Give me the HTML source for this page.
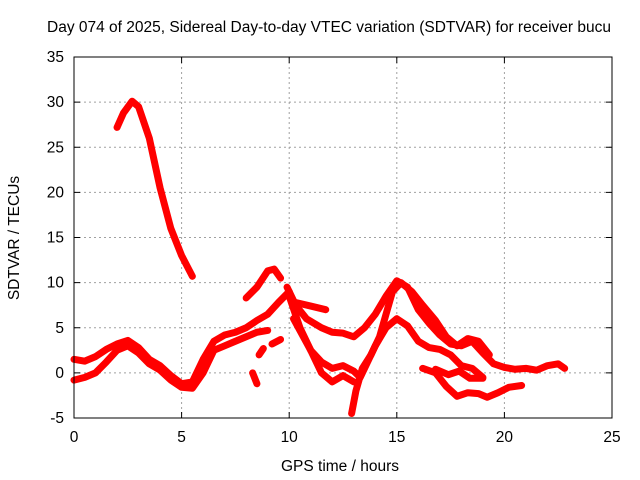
<!DOCTYPE html>
<html><head><meta charset="utf-8"><style>
body{margin:0;background:#fff}
svg{display:block;font-family:"Liberation Sans",sans-serif}
</style></head><body>
<svg id="chart" width="640" height="480">
<text x="47" y="32" font-size="15.5" text-anchor="start">Day 074 of 2025, Sidereal Day-to-day VTEC variation (SDTVAR) for receiver bucu</text>
<text x="340" y="471" font-size="15.5" text-anchor="middle">GPS time / hours</text>
<text transform="translate(19,238) rotate(-90)" font-size="15.5" text-anchor="middle">SDTVAR / TECUs</text>
<g id="grid"></g><g id="marks"></g><g id="axes"></g>
</svg>
<script>
const xTicks=[0,5,10,15,20,25];
const yTicks=[-5,0,5,10,15,20,25,30,35];
const trackA=[[2.0,27.2],[2.3,28.8],[2.7,30.1],[3.0,29.5],[3.5,26],[4.0,20.5],[4.5,16],[5.0,13],[5.5,10.7]];
const trackB=[[0,1.5],[0.5,1.3],[1,1.8],[1.5,2.6],[2,3.2],[2.5,3.6],[3,2.8],[3.5,1.5],[4,0.8],[4.5,-0.3],[5,-1.2],[5.5,-1.0],[6,1.5],[6.5,3.5],[7,4.2],[7.5,4.5],[8,5],[8.5,5.8],[9,6.5],[9.5,7.8],[10,9]];
const trackC=[[0,-0.8],[0.5,-0.5],[1,0],[1.5,1.2],[2,2.5],[2.5,3.0],[3,2.2],[3.5,1.0],[4,0.3],[4.5,-0.8],[5,-1.6],[5.5,-1.7],[6,0],[6.5,2.5],[7,3],[7.5,3.5],[8,4],[8.5,4.5],[9,4.7]];
const trackPeak=[[8.0,8.3],[8.5,9.5],[9,11.3],[9.3,11.5],[9.6,10.5]];
const trackD=[[9.9,9.5],[10.3,7.5],[10.8,6],[11.5,5],[12,4.5],[12.5,4.4],[13,4],[13.5,5],[14,6.5],[14.5,8.5],[15,10.2],[15.5,9.5],[16,7],[16.5,5.5],[17,4.2],[17.5,3.2],[18,3.0],[18.5,3.5],[19,2.2],[19.5,1.0],[20,0.6],[20.5,0.4],[21,0.5],[21.5,0.3],[22,0.8],[22.5,1.0],[22.8,0.5]];
const trackE=[[10,8.5],[10.5,5],[11,2.5],[11.5,1.2],[12,0.5],[12.5,0.8],[13,0.2],[13.3,-0.5],[13.6,1],[14,3],[14.5,5],[15,6],[15.5,5.2],[16,3.5],[16.5,2.8],[17,2.6],[17.5,2],[18,0.8],[18.5,0.5],[19,-0.5]];
const trackF=[[10.2,6],[11,2.5],[11.5,0],[12,-1],[12.5,-0.3],[13,-1]];
const trackG=[[12.9,-4.5],[13.1,-2],[13.4,0.5],[13.8,2],[14.2,4],[14.5,6.5],[14.8,9],[15.2,10],[15.7,9],[16.2,7.5],[16.8,5.8],[17.3,4],[17.8,3.0],[18.3,3.8],[18.8,3.5],[19.3,2.0]];
const trackH=[[16.2,0.5],[16.8,0],[17.3,-1.5],[17.8,-2.6],[18.3,-2.2],[18.8,-2.3],[19.2,-2.7],[19.7,-2.2],[20.2,-1.6],[20.8,-1.4]];
const trackI=[[16.8,0.4],[17.4,-0.2],[17.9,0.2],[18.4,-0.6],[19,-0.6]];
const trackJ=[[10.3,7.8],[11,7.4],[11.7,7]];
const trackK=[[8.3,0],[8.5,-1.2]];
const trackL=[[8.6,2],[8.8,2.7]];
const trackM=[[9.2,3.2],[9.6,3.7]];
const tracks=[trackA,trackB,trackC,trackPeak,trackD,trackE,trackF,trackG,trackH,trackI,trackJ,trackK,trackL,trackM];

const X0=74,X1=612,Y0=418,Y1=57;
const xs=h=>X0+(h-0)/(25-0)*(X1-X0);
const ys=v=>Y0-(v+5)/40*(Y0-Y1);
const NS='http://www.w3.org/2000/svg';
function mk(tag,attrs,parent){const e=document.createElementNS(NS,tag);for(const k in attrs)e.setAttribute(k,attrs[k]);parent.appendChild(e);return e;}
const grid=document.getElementById('grid'),axes=document.getElementById('axes'),marks=document.getElementById('marks');
xTicks.forEach(t=>{
  const x=xs(t);
  if(t>0&&t<25){const g=mk('line',{x1:x,x2:x,y1:Y1,y2:Y0,stroke:'#a0a0a0','stroke-dasharray':'2,3'},grid);
  
  }
  mk('line',{x1:x,x2:x,y1:Y0,y2:Y0-6,stroke:'#000'},axes);
  mk('line',{x1:x,x2:x,y1:Y1,y2:Y1+6,stroke:'#000'},axes);
  const l=mk('text',{x:x,y:Y0+24,'font-size':15.5,'text-anchor':'middle'},axes);l.textContent=t;
  
  
});
yTicks.forEach(t=>{
  const y=ys(t);
  if(t>-5&&t<35){const g=mk('line',{x1:X0,x2:X1,y1:y,y2:y,stroke:'#a0a0a0','stroke-dasharray':'2,3'},grid);
  
  }
  mk('line',{x1:X0,x2:X0+6,y1:y,y2:y,stroke:'#000'},axes);
  mk('line',{x1:X1,x2:X1-6,y1:y,y2:y,stroke:'#000'},axes);
  const l=mk('text',{x:X0-10,y:y+5,'font-size':15.5,'text-anchor':'end'},axes);l.textContent=t;
  
  
});
const fr=mk('rect',{x:X0,y:Y1,width:X1-X0,height:Y0-Y1,fill:'none',stroke:'#000'},axes);


tracks.forEach(tr=>{
  const p=mk('polyline',{points:tr.map(d=>xs(d[0])+','+ys(d[1])).join(' '),fill:'none',stroke:'#ff0000','stroke-width':7,'stroke-linejoin':'round','stroke-linecap':'round'},marks);
  
  
});
</script>
</body></html>
